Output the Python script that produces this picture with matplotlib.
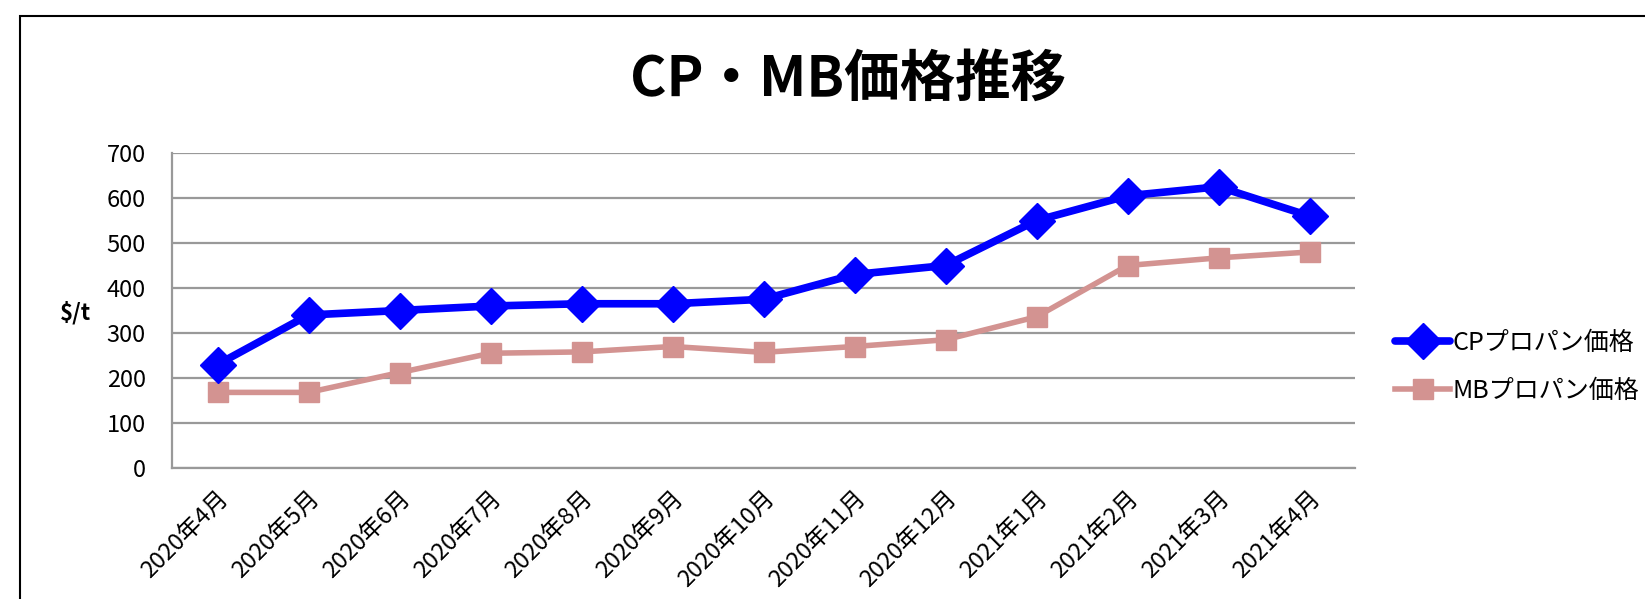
import matplotlib
matplotlib.use("Agg")
import matplotlib.pyplot as plt
from matplotlib.patches import Rectangle

plt.rcParams['font.family'] = ['Noto Sans CJK JP', 'DejaVu Sans']

months = ["2020年4月", "2020年5月", "2020年6月", "2020年7月", "2020年8月", "2020年9月",
          "2020年10月", "2020年11月", "2020年12月", "2021年1月", "2021年2月", "2021年3月", "2021年4月"]
cp_values = [230, 340, 350, 360, 365, 365, 375, 430, 450, 550, 605, 625, 560]
mb_values = [168, 168, 212, 255, 258, 270, 257, 270, 285, 336, 450, 467, 480]
yticks = [0, 100, 200, 300, 400, 500, 600, 700]

W, H = 1645, 599
fig = plt.figure(figsize=(W / 100, H / 100), dpi=100)
fig.patch.set_facecolor('white')

# outer chart border
fig.patches.append(Rectangle((20 / W, -0.1), 1.2, (H - 16) / H + 0.1, transform=fig.transFigure,
                             fill=False, edgecolor='black', linewidth=1.5))

left, right, top, bottom = 172, 1355, 153, 468
ax = fig.add_axes([left / W, 1 - bottom / H, (right - left) / W, (bottom - top) / H])

x = list(range(len(months)))
ax.plot(x, cp_values, color='#0000FF', linewidth=5.5, marker='D', markersize=18,
        markeredgecolor='#0000FF', label='CPプロパン価格', zorder=4, solid_capstyle='round')
ax.plot(x, mb_values, color='#D39391', linewidth=4, marker='s', markersize=15,
        markeredgecolor='#D39391', label='MBプロパン価格', zorder=3)

ax.set_xlim(-0.5, len(months) - 0.5)
ax.set_ylim(0, 700)
ax.set_yticks(yticks)
ax.set_yticklabels([str(v) for v in yticks], fontsize=17)
ax.yaxis.grid(True, color='#999999', linewidth=1.6)
ax.set_axisbelow(True)
ax.tick_params(axis='y', length=0, pad=19)
ax.tick_params(axis='x', length=0, pad=14)
ax.set_xticks(x)
ax.set_xticklabels(months, rotation=45, ha='right', rotation_mode='anchor', fontsize=17)
for lab in ax.get_xticklabels():
    lab.set_va('top')

for s in ['top', 'right']:
    ax.spines[s].set_visible(False)
for s in ['left', 'bottom']:
    ax.spines[s].set_color('#999999')
    ax.spines[s].set_linewidth(1.6)

fig.text(848 / W, 1 - 80 / H, 'CP・MB価格推移', fontsize=40, fontweight='bold',
         ha='center', va='center')
fig.text(75 / W, 1 - 313 / H, '$/t', fontsize=16, fontweight='bold', ha='center', va='center')

leg = fig.legend(loc='upper left', bbox_to_anchor=(1395 / W, 1 - 330 / H), frameon=False,
                 fontsize=18, handlelength=2.2, handletextpad=0.1, labelspacing=0.88,
                 borderaxespad=0, borderpad=0)

fig.savefig('out.png', dpi=100, facecolor='white')
